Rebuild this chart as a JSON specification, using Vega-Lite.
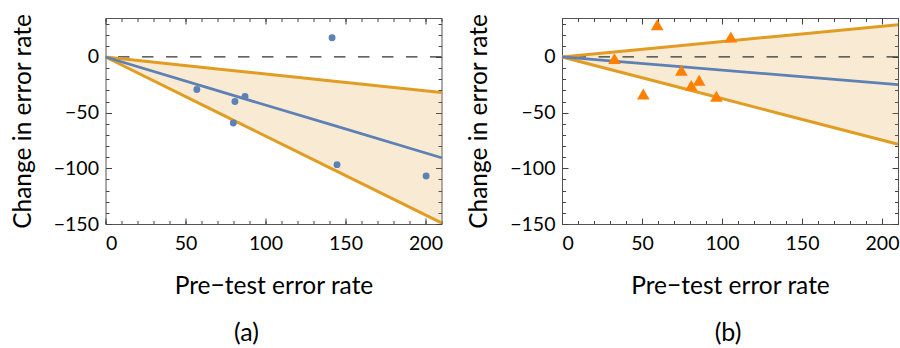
{
  "$schema": "https://vega.github.io/schema/vega-lite/v6.json",
  "padding": {"left": 9.5, "top": 12, "right": 2, "bottom": 0},
  "spacing": 17.5,
  "config": {
    "font": "Lato",
    "view": {"stroke": "#555", "strokeWidth": 1},
    "axis": {"domain": false, "grid": false, "tickColor": "#444", "tickWidth": 1, "labelColor": "#000", "titleColor": "#000", "labelFont": "Lato", "titleFont": "Lato", "labelFontSize": 19.5, "titleFontSize": 24.5, "titleFontWeight": "normal"},
    "title": {"font": "Lato", "fontSize": 25, "fontWeight": "normal", "color": "#000"}
  },
  "datasets": {
    "a_lines": [
      {"x": 0, "lo": 0, "hi": 0, "fit": 0},
      {"x": 70, "lo": -49.7, "hi": -10.7, "fit": -30.3},
      {"x": 140, "lo": -99.3, "hi": -21.3, "fit": -60.3},
      {"x": 210, "lo": -149, "hi": -32, "fit": -90.5}
    ],
    "a_pts": [
      {"x": 57.1, "y": -29.2}, {"x": 80.9, "y": -40}, {"x": 79.9, "y": -59.3}, {"x": 87.2, "y": -35.5},
      {"x": 141.6, "y": 17.2}, {"x": 144.7, "y": -96.7}, {"x": 200.4, "y": -106.9}
    ],
    "b_lines": [
      {"x": 0, "lo": 0, "hi": 0, "fit": 0},
      {"x": 70, "lo": -26.1, "hi": 9.6, "fit": -8.3},
      {"x": 140, "lo": -52.3, "hi": 19.3, "fit": -16.5},
      {"x": 210, "lo": -78.4, "hi": 28.9, "fit": -24.8}
    ],
    "b_pts": [
      {"x": 32.8, "y": -1.5}, {"x": 59.5, "y": 28.9}, {"x": 50.8, "y": -33.2}, {"x": 74.6, "y": -12},
      {"x": 80.8, "y": -25.5}, {"x": 85.7, "y": -20.9}, {"x": 96.5, "y": -35.3}, {"x": 105.5, "y": 17.9}
    ]
  },
  "hconcat": [
    {
      "width": 336, "height": 206,
      "title": {"text": "(a)", "orient": "bottom", "anchor": "middle", "dx": -27, "offset": 23},
      "resolve": {"axis": {"x": "independent", "y": "independent"}},
      "layer": [
        {"data": {"name": "a_lines"}, "mark": {"type": "area", "color": "#E19C24", "opacity": 0.2},
         "encoding": {
           "x": {"field": "x", "type": "quantitative", "scale": {"domain": [0, 210], "nice": false}, "axis": {"orient": "bottom", "values": [0, 50, 100, 150, 200], "ticks": false, "labelPadding": 10, "title": "Pre−test error rate", "titlePadding": 22}},
           "y": {"field": "lo", "type": "quantitative", "scale": {"domain": [-150, 35], "nice": false}, "axis": {"orient": "left", "values": [-150, -100, -50, 0], "ticks": false, "labelPadding": 7, "title": "Change in error rate", "titlePadding": 18}},
           "y2": {"field": "hi"}
         }},
        {"data": {"values": [{}]}, "mark": {"type": "rule", "color": "#333", "strokeWidth": 1.3, "strokeDash": [11.5, 12.5]},
         "encoding": {"y": {"datum": 0, "type": "quantitative", "axis": null}}},
        {"data": {"name": "a_lines"}, "mark": {"type": "line", "color": "#E19C24", "strokeWidth": 3},
         "encoding": {
           "x": {"field": "x", "type": "quantitative", "axis": {"orient": "bottom", "values": [0, 50, 100, 150, 200], "labels": false, "tickSize": 6, "offset": -6, "title": null}},
           "y": {"field": "hi", "type": "quantitative", "axis": {"orient": "left", "values": [-150, -100, -50, 0], "labels": false, "tickSize": 6, "offset": -6, "title": null}}
         }},
        {"data": {"name": "a_lines"}, "mark": {"type": "line", "color": "#E19C24", "strokeWidth": 3},
         "encoding": {
           "x": {"field": "x", "type": "quantitative", "axis": {"orient": "bottom", "values": [0, 10, 20, 30, 40, 50, 60, 70, 80, 90, 100, 110, 120, 130, 140, 150, 160, 170, 180, 190, 200, 210], "labels": false, "tickSize": 3.5, "offset": -3.5, "title": null}},
           "y": {"field": "lo", "type": "quantitative", "axis": {"orient": "left", "values": [-150, -140, -130, -120, -110, -100, -90, -80, -70, -60, -50, -40, -30, -20, -10, 0, 10, 20, 30], "labels": false, "tickSize": 3.5, "offset": -3.5, "title": null}}
         }},
        {"data": {"name": "a_lines"}, "mark": {"type": "line", "color": "#5E81B5", "strokeWidth": 2.8},
         "encoding": {
           "x": {"field": "x", "type": "quantitative", "axis": {"orient": "top", "values": [0, 50, 100, 150, 200], "labels": false, "tickSize": 6, "offset": -6, "title": null}},
           "y": {"field": "fit", "type": "quantitative", "axis": {"orient": "right", "values": [-150, -100, -50, 0], "labels": false, "tickSize": 6, "offset": -6, "title": null}}
         }},
        {"data": {"name": "a_pts"}, "mark": {"type": "point", "shape": "circle", "filled": true, "color": "#5E81B5", "opacity": 1, "size": 48},
         "encoding": {
           "x": {"field": "x", "type": "quantitative", "axis": {"orient": "top", "values": [0, 10, 20, 30, 40, 50, 60, 70, 80, 90, 100, 110, 120, 130, 140, 150, 160, 170, 180, 190, 200, 210], "labels": false, "tickSize": 3.5, "offset": -3.5, "title": null}},
           "y": {"field": "y", "type": "quantitative", "axis": {"orient": "right", "values": [-150, -140, -130, -120, -110, -100, -90, -80, -70, -60, -50, -40, -30, -20, -10, 0, 10, 20, 30], "labels": false, "tickSize": 3.5, "offset": -3.5, "title": null}}
         }}
      ]
    },
    {
      "width": 336, "height": 206,
      "title": {"text": "(b)", "orient": "bottom", "anchor": "middle", "dx": -2, "offset": 23},
      "resolve": {"axis": {"x": "independent", "y": "independent"}},
      "layer": [
        {"data": {"name": "b_lines"}, "mark": {"type": "area", "color": "#E19C24", "opacity": 0.2},
         "encoding": {
           "x": {"field": "x", "type": "quantitative", "scale": {"domain": [0, 210], "nice": false}, "axis": {"orient": "bottom", "values": [0, 50, 100, 150, 200], "ticks": false, "labelPadding": 10, "title": "Pre−test error rate", "titlePadding": 22}},
           "y": {"field": "lo", "type": "quantitative", "scale": {"domain": [-150, 35], "nice": false}, "axis": {"orient": "left", "values": [-150, -100, -50, 0], "ticks": false, "labelPadding": 7, "title": "Change in error rate", "titlePadding": 18}},
           "y2": {"field": "hi"}
         }},
        {"data": {"values": [{}]}, "mark": {"type": "rule", "color": "#333", "strokeWidth": 1.3, "strokeDash": [11.5, 12.5]},
         "encoding": {"y": {"datum": 0, "type": "quantitative", "axis": null}}},
        {"data": {"name": "b_lines"}, "mark": {"type": "line", "color": "#E19C24", "strokeWidth": 3},
         "encoding": {
           "x": {"field": "x", "type": "quantitative", "axis": {"orient": "bottom", "values": [0, 50, 100, 150, 200], "labels": false, "tickSize": 6, "offset": -6, "title": null}},
           "y": {"field": "hi", "type": "quantitative", "axis": {"orient": "left", "values": [-150, -100, -50, 0], "labels": false, "tickSize": 6, "offset": -6, "title": null}}
         }},
        {"data": {"name": "b_lines"}, "mark": {"type": "line", "color": "#E19C24", "strokeWidth": 3},
         "encoding": {
           "x": {"field": "x", "type": "quantitative", "axis": {"orient": "bottom", "values": [0, 10, 20, 30, 40, 50, 60, 70, 80, 90, 100, 110, 120, 130, 140, 150, 160, 170, 180, 190, 200, 210], "labels": false, "tickSize": 3.5, "offset": -3.5, "title": null}},
           "y": {"field": "lo", "type": "quantitative", "axis": {"orient": "left", "values": [-150, -140, -130, -120, -110, -100, -90, -80, -70, -60, -50, -40, -30, -20, -10, 0, 10, 20, 30], "labels": false, "tickSize": 3.5, "offset": -3.5, "title": null}}
         }},
        {"data": {"name": "b_lines"}, "mark": {"type": "line", "color": "#5E81B5", "strokeWidth": 2.8},
         "encoding": {
           "x": {"field": "x", "type": "quantitative", "axis": {"orient": "top", "values": [0, 50, 100, 150, 200], "labels": false, "tickSize": 6, "offset": -6, "title": null}},
           "y": {"field": "fit", "type": "quantitative", "axis": {"orient": "right", "values": [-150, -100, -50, 0], "labels": false, "tickSize": 6, "offset": -6, "title": null}}
         }},
        {"data": {"name": "b_pts"}, "mark": {"type": "point", "shape": "triangle-up", "filled": true, "color": "#FF7F00", "opacity": 1, "size": 160},
         "encoding": {
           "x": {"field": "x", "type": "quantitative", "axis": {"orient": "top", "values": [0, 10, 20, 30, 40, 50, 60, 70, 80, 90, 100, 110, 120, 130, 140, 150, 160, 170, 180, 190, 200, 210], "labels": false, "tickSize": 3.5, "offset": -3.5, "title": null}},
           "y": {"field": "y", "type": "quantitative", "axis": {"orient": "right", "values": [-150, -140, -130, -120, -110, -100, -90, -80, -70, -60, -50, -40, -30, -20, -10, 0, 10, 20, 30], "labels": false, "tickSize": 3.5, "offset": -3.5, "title": null}}
         }}
      ]
    }
  ]
}
